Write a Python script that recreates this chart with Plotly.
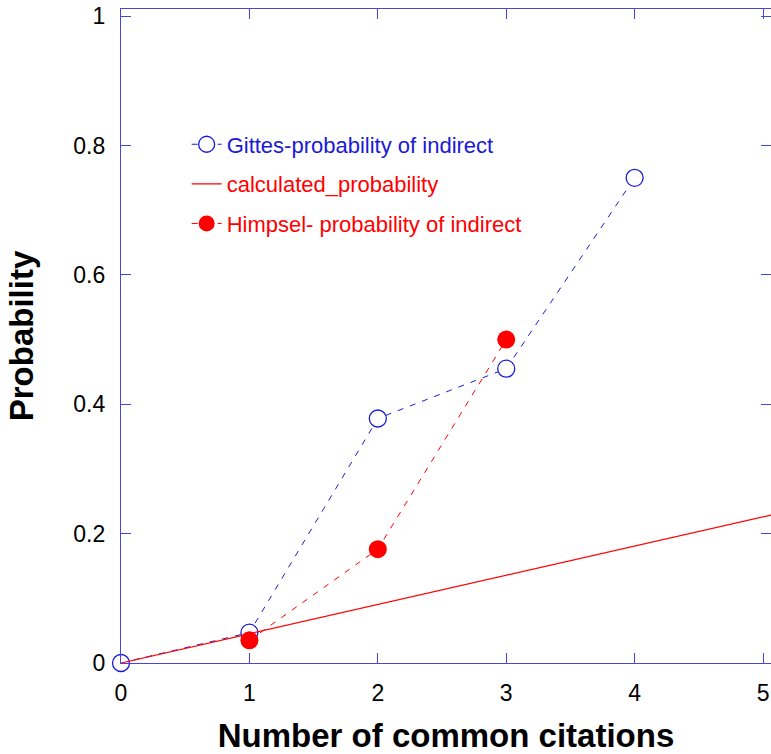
import plotly.graph_objects as go

# Observed and calculated probability of an indirect link vs. shared citations
gittes_x = [0, 1, 2, 3, 4]
gittes_y = [0.0, 0.047, 0.378, 0.455, 0.750]

calc_x = [0, 1, 2, 3, 4, 5, 6]
calc_y = [0.0, 0.045, 0.090, 0.136, 0.181, 0.226, 0.271]

himpsel_x = [1, 2, 3]
himpsel_y = [0.035, 0.176, 0.500]

x_ticks = [0, 1, 2, 3, 4, 5]
y_ticks = [0, 0.2, 0.4, 0.6, 0.8, 1]
y_tick_text = ["0", "0.2", "0.4", "0.6", "0.8", "1"]

BLUE = "#1a1ad6"
RED = "#ff0000"
FRAME = "#4646d8"
FONT = "Liberation Sans, Arial, sans-serif"

fig = go.Figure()

fig.add_trace(go.Scatter(
    x=gittes_x, y=gittes_y, mode="lines+markers",
    name=f"<span style='color:{BLUE}'>Gittes-probability of indirect</span>",
    legendgroup="g1", cliponaxis=False,
    line=dict(color=BLUE, width=1, dash="6px,7px"),
    marker=dict(symbol="circle", size=17, color="white",
                line=dict(color=BLUE, width=1.3)),
))

fig.add_trace(go.Scatter(
    x=calc_x, y=calc_y, mode="lines",
    name=f"<span style='color:{RED}'>calculated_probability</span>",
    legendgroup="g2",
    line=dict(color=RED, width=1.2),
))

fig.add_trace(go.Scatter(
    x=himpsel_x, y=himpsel_y, mode="lines+markers",
    name=f"<span style='color:{RED}'>Himpsel- probability of indirect</span>",
    legendgroup="g3", cliponaxis=False,
    line=dict(color=RED, width=1, dash="6px,7px"),
    marker=dict(symbol="circle", size=18, color=RED, line=dict(width=0)),
))

axis_common = dict(
    showline=True, linecolor=FRAME, linewidth=1.3, mirror="ticks",
    ticks="inside", ticklen=10, tickwidth=1.3, tickcolor=FRAME,
    showgrid=False, zeroline=False,
    tickfont=dict(family=FONT, size=23, color="black"),
)

fig.update_layout(
    width=771, height=754,
    margin=dict(l=121, r=0, t=9, b=91),
    paper_bgcolor="white", plot_bgcolor="white",
    font=dict(family=FONT),
    showlegend=True,
    legend=dict(
        x=0.101, y=0.825, xanchor="left", yanchor="top",
        bgcolor="rgba(0,0,0,0)", borderwidth=0,
        font=dict(family=FONT, size=22),
        tracegroupgap=8, itemwidth=30,
    ),
    xaxis=dict(
        range=[0, 5.062], tickvals=x_ticks,
        title=dict(text="<b>Number of common citations</b>", standoff=22,
                   font=dict(family=FONT, size=33, color="black")),
        ticklabelstandoff=9,
        **axis_common,
    ),
    yaxis=dict(
        range=[0, 1.011], tickvals=y_ticks, ticktext=y_tick_text,
        title=dict(text="<b>Probability</b>", standoff=29,
                   font=dict(family=FONT, size=33, color="black")),
        ticklabelstandoff=10,
        **axis_common,
    ),
)

fig.write_html("out.html")
